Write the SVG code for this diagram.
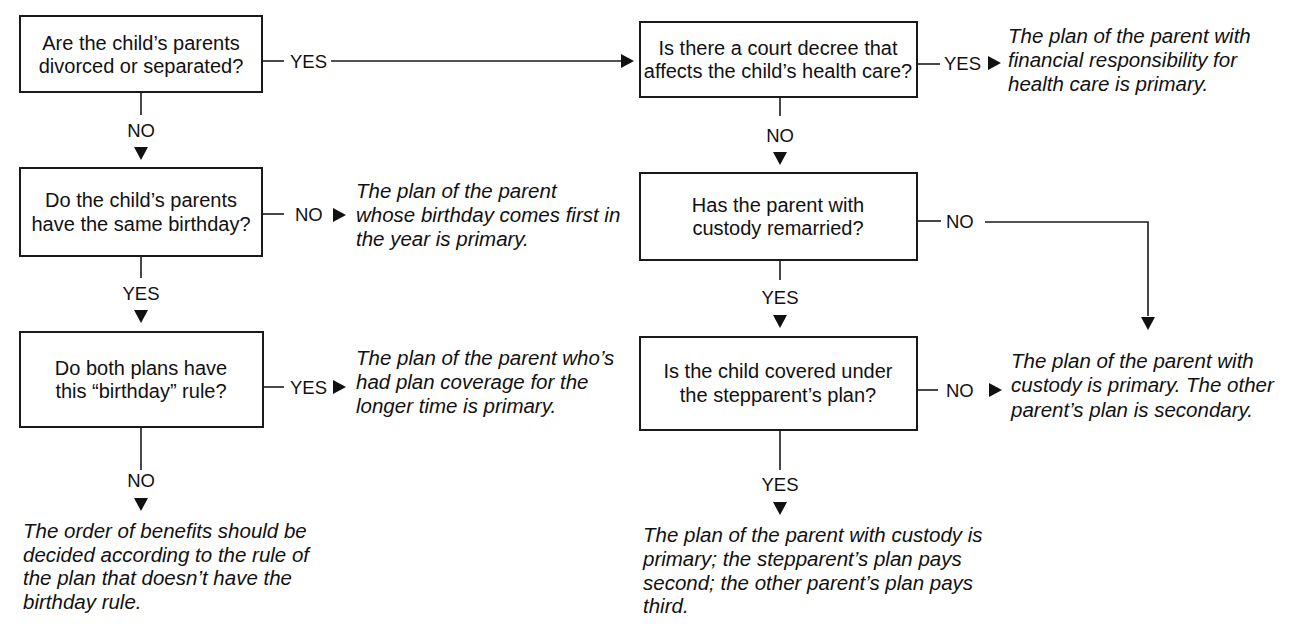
<svg xmlns="http://www.w3.org/2000/svg" xmlns:xlink="http://www.w3.org/1999/xlink" width="1309" height="624" viewBox="0 0 1309 624">
<style>
.bx{fill:#fff;stroke:#1a1a1a;stroke-width:2}
.ln{fill:none;stroke:#1a1a1a;stroke-width:1.6}
.ah{fill:#111}
.q{font-family:"Liberation Sans",Arial,sans-serif;font-size:20px;fill:#111;text-anchor:middle}
.r{font-family:"Liberation Sans",Arial,sans-serif;font-size:20.5px;font-style:italic;fill:#111}
.l{font-family:"Liberation Sans",Arial,sans-serif;font-size:18.5px;fill:#111}
.lc{font-family:"Liberation Sans",Arial,sans-serif;font-size:18.5px;fill:#111;text-anchor:middle}
</style>
<defs>
<path id="ad" d="M-7,0 L7,0 L0,13 Z"/>
<path id="ar" d="M0,-7 L13,0 L0,7 Z"/>
</defs>
<rect width="1309" height="624" fill="#fff"/>

<g id="connectors">
  <!-- box1 YES -> box2 -->
  <line class="ln" x1="262" y1="61" x2="284" y2="61"/>
  <text class="l" x="290" y="68">YES</text>
  <line class="ln" x1="331" y1="61" x2="621" y2="61"/>
  <use href="#ar" class="ah" x="621" y="61"/>
  <!-- box1 NO -> box3 -->
  <line class="ln" x1="141" y1="92" x2="141" y2="115"/>
  <text class="lc" x="141" y="137">NO</text>
  <use href="#ad" class="ah" x="141" y="147"/>
  <!-- box3 NO -> result -->
  <line class="ln" x1="262" y1="214" x2="284" y2="214"/>
  <text class="l" x="295" y="221">NO</text>
  <use href="#ar" class="ah" x="333" y="215"/>
  <!-- box3 YES -> box4 -->
  <line class="ln" x1="141" y1="256" x2="141" y2="278"/>
  <text class="lc" x="141" y="300">YES</text>
  <use href="#ad" class="ah" x="141" y="310"/>
  <!-- box4 YES -> result -->
  <line class="ln" x1="263" y1="387" x2="284" y2="387"/>
  <text class="l" x="290" y="394">YES</text>
  <use href="#ar" class="ah" x="333" y="387"/>
  <!-- box4 NO -> result -->
  <line class="ln" x1="141" y1="427" x2="141" y2="470"/>
  <text class="lc" x="141" y="487">NO</text>
  <use href="#ad" class="ah" x="141" y="498"/>
  <!-- box2 YES -> result -->
  <line class="ln" x1="917" y1="64" x2="940" y2="64"/>
  <text class="l" x="944" y="70">YES</text>
  <use href="#ar" class="ah" x="988" y="63"/>
  <!-- box2 NO -> box5 -->
  <line class="ln" x1="780" y1="97" x2="780" y2="116"/>
  <text class="lc" x="780" y="142">NO</text>
  <use href="#ad" class="ah" x="780" y="152"/>
  <!-- box5 NO -> result -->
  <line class="ln" x1="917" y1="221" x2="941" y2="221"/>
  <text class="l" x="946" y="228">NO</text>
  <polyline class="ln" points="985,222 1148,222 1148,316"/>
  <use href="#ad" class="ah" x="1148" y="317"/>
  <!-- box5 YES -> box6 -->
  <line class="ln" x1="780" y1="260" x2="780" y2="280"/>
  <text class="lc" x="780" y="304">YES</text>
  <use href="#ad" class="ah" x="780" y="315"/>
  <!-- box6 NO -> result -->
  <line class="ln" x1="917" y1="390" x2="938" y2="390"/>
  <text class="l" x="946" y="397">NO</text>
  <use href="#ar" class="ah" x="989" y="390"/>
  <!-- box6 YES -> result -->
  <line class="ln" x1="780" y1="430" x2="780" y2="470"/>
  <text class="lc" x="780" y="491">YES</text>
  <use href="#ad" class="ah" x="780" y="502"/>
</g>

<g id="n1">
  <rect class="bx" x="20" y="16" width="242" height="76"/>
  <text class="q" x="141" y="50">Are the child’s parents</text>
  <text class="q" x="141" y="73">divorced or separated?</text>
</g>
<g id="n3">
  <rect class="bx" x="20" y="168" width="242" height="88"/>
  <text class="q" x="141" y="207">Do the child’s parents</text>
  <text class="q" x="141" y="231">have the same birthday?</text>
</g>
<g id="n4">
  <rect class="bx" x="20" y="332" width="243" height="95"/>
  <text class="q" x="141" y="375">Do both plans have</text>
  <text class="q" x="141" y="398">this “birthday” rule?</text>
</g>
<g id="n2">
  <rect class="bx" x="640" y="22" width="277" height="75"/>
  <text class="q" x="778" y="55">Is there a court decree that</text>
  <text class="q" x="778" y="78">affects the child’s health care?</text>
</g>
<g id="n5">
  <rect class="bx" x="640" y="173" width="277" height="87"/>
  <text class="q" x="778" y="212">Has the parent with</text>
  <text class="q" x="778" y="235">custody remarried?</text>
</g>
<g id="n6">
  <rect class="bx" x="640" y="337" width="277" height="93"/>
  <text class="q" x="778" y="378">Is the child covered under</text>
  <text class="q" x="778" y="402">the stepparent’s plan?</text>
</g>

<g id="r1">
  <text class="r" x="356" y="198">The plan of the parent</text>
  <text class="r" x="356" y="222">whose birthday comes first in</text>
  <text class="r" x="356" y="246">the year is primary.</text>
</g>
<g id="r2">
  <text class="r" x="356" y="365">The plan of the parent who’s</text>
  <text class="r" x="356" y="389">had plan coverage for the</text>
  <text class="r" x="356" y="413">longer time is primary.</text>
</g>
<g id="r3">
  <text class="r" x="23" y="538">The order of benefits should be</text>
  <text class="r" x="23" y="561.5">decided according to the rule of</text>
  <text class="r" x="23" y="585">the plan that doesn’t have the</text>
  <text class="r" x="23" y="608.5">birthday rule.</text>
</g>
<g id="r4">
  <text class="r" x="1008" y="43">The plan of the parent with</text>
  <text class="r" x="1008" y="67">financial responsibility for</text>
  <text class="r" x="1008" y="91">health care is primary.</text>
</g>
<g id="r5">
  <text class="r" x="1011" y="368">The plan of the parent with</text>
  <text class="r" x="1011" y="392">custody is primary. The other</text>
  <text class="r" x="1011" y="417">parent’s plan is secondary.</text>
</g>
<g id="r6">
  <text class="r" x="643" y="542">The plan of the parent with custody is</text>
  <text class="r" x="643" y="565.5">primary; the stepparent’s plan pays</text>
  <text class="r" x="643" y="589.5">second; the other parent’s plan pays</text>
  <text class="r" x="643" y="613">third.</text>
</g>
</svg>
